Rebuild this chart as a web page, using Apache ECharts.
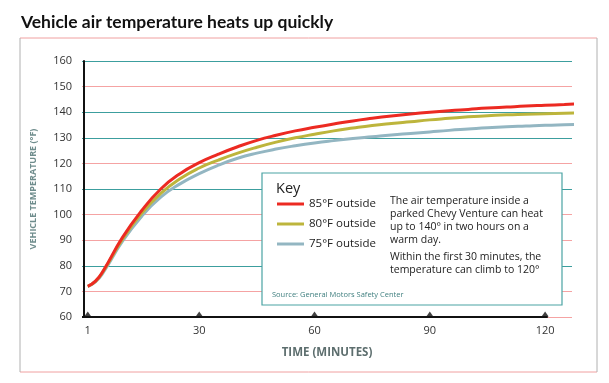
<!DOCTYPE html>
<html><head><meta charset="utf-8">
<script src="https://cdn.jsdelivr.net/npm/echarts@6/dist/echarts.min.js"></script>
<style>html,body{margin:0;padding:0;background:#fff}#c{width:609px;height:383px}</style>
</head><body><div id="c"></div>
<script>
// ---- data ----
const minutes = [1,3,5,10,15,20,25,30,35,40,45,50,55,60,65,70,75,80,85,90,95,100,105,110,115,120,125,128];
const temp85 = [72,74,78,91,101.5,110,116,120.3,123.6,126.5,129,131,132.7,134.1,135.4,136.6,137.6,138.5,139.3,140,140.6,141.1,141.6,142,142.4,142.7,143,143.2];
const temp80 = [72,73.9,77.8,90.3,100.5,108.3,114,118.2,121.3,124,126.3,128.3,130,131.4,132.7,133.8,134.8,135.6,136.3,137,137.6,138.2,138.6,139,139.2,139.4,139.6,139.7];
const temp75 = [72,73.7,77.3,89.5,99.3,106.8,112,116,119.3,122,124,125.6,126.9,128,128.9,129.7,130.4,131.1,131.7,132.3,132.9,133.4,133.9,134.3,134.6,134.9,135.1,135.2];
const seriesNames = ['85°F outside','80°F outside','75°F outside'];
const xTicks = [1,30,60,90,120];

const pink = '#f5a3a3', teal = '#3c9e9e';
const gridColors = [pink,pink,teal,pink,pink,teal,pink,teal,teal,pink,teal];

const zip = (xs, ys) => xs.map((x,i)=>[x, ys[i]]);
const lineSeries = (name, ys, color) => ({
  name, type:'line', data: zip(minutes, ys), smooth:0.5, showSymbol:false, clip:false,
  lineStyle:{color, width:3}, itemStyle:{color}, z:3
});

const chart = echarts.init(document.getElementById('c'));
chart.setOption({
  animation:false,
  title:{text:'Vehicle air temperature heats up quickly', left:16, top:8,
    textStyle:{fontFamily:'Lato', fontWeight:'bold', fontSize:17.5, color:'#111'}},
  grid:{left:82, top:61, width:490, height:256},
  xAxis:{type:'value', min:-0.5, max:127,
    axisLine:{show:false}, axisTick:{show:false}, splitLine:{show:false},
    axisLabel:{customValues:xTicks, color:'#333', fontSize:11, margin:8, fontFamily:'Open Sans'},
    name:'TIME (MINUTES)', nameLocation:'middle', nameGap:30,
    nameTextStyle:{color:'#5d6e6e', fontWeight:'bold', fontSize:11.5, fontFamily:'Open Sans'}
  },
  yAxis:{type:'value', min:60, max:160, interval:10,
    axisLine:{show:true, lineStyle:{color:'#111', width:2}}, axisTick:{show:false},
    axisLabel:{color:'#333', fontSize:11, margin:10, fontFamily:'Open Sans'},
    splitLine:{show:true, lineStyle:{color:gridColors, width:1.2}},
    name:'VEHICLE TEMPERATURE (°F)', nameLocation:'middle', nameGap:44, nameRotate:90,
    nameTextStyle:{color:'#6f8d8d', fontSize:9, fontWeight:'bold', fontFamily:'Open Sans'}
  },
  legend:{data:seriesNames, orient:'vertical', left:277, top:198, padding:0, icon:'rect', z:20,
    itemWidth:27, itemHeight:3, itemGap:8,
    textStyle:{fontSize:11.5, color:'#222', fontFamily:'Open Sans', padding:[0,0,0,0]}},
  series:[
    lineSeries(seriesNames[2], temp75, '#93b6c2'),
    lineSeries(seriesNames[1], temp80, '#bdb53c'),
    lineSeries(seriesNames[0], temp85, '#ec2a22'),
    {type:'scatter', data: xTicks.map(t=>[t,60]), symbol:'triangle', symbolSize:[7,5],
     symbolOffset:[0,-3], itemStyle:{color:'#111'}, silent:true, z:5,
     markLine:{silent:true, symbol:'none', label:{show:false},
       lineStyle:{color:'#111', width:2, type:'solid'},
       data:[[{coord:[-0.5,60]},{coord:[120.7,60]}]]}}
  ],
  graphic:[
    {type:'line', shape:{x1:20,y1:38,x2:597,y2:38}, style:{stroke:'#f0a0a0', lineWidth:1}},
    {type:'line', shape:{x1:20,y1:372,x2:597,y2:372}, style:{stroke:'#f0a0a0', lineWidth:1}},
    {type:'line', shape:{x1:20,y1:38,x2:20,y2:372}, style:{stroke:'#b0b0b0', lineWidth:1}},
    {type:'line', shape:{x1:597,y1:38,x2:597,y2:372}, style:{stroke:'#b0b0b0', lineWidth:1}},
    {type:'rect', shape:{x:262,y:173,width:300,height:132}, style:{fill:'#fff', stroke:'#4aa3a3', lineWidth:1.2}, z:10},
    {type:'text', left:276, top:181, style:{text:'Key', fontSize:14.5, fontFamily:'Open Sans', fill:'#222'}, z:11},
    {type:'text', left:390, top:195, style:{text:'The air temperature inside a\nparked Chevy Venture can heat\nup to 140° in two hours on a\nwarm day.', fontSize:10.5, lineHeight:12.8, fontFamily:'Open Sans', fill:'#222'}, z:11},
    {type:'text', left:390, top:251, style:{text:'Within the first 30 minutes, the\ntemperature can climb to 120°', fontSize:10.5, lineHeight:12.8, fontFamily:'Open Sans', fill:'#222'}, z:11},
    {type:'text', left:272, top:291, style:{text:'Source: General Motors Safety Center', fontSize:7.5, fontFamily:'Open Sans', fill:'#3f7f7f'}, z:11}
  ]
});
</script></body></html>
